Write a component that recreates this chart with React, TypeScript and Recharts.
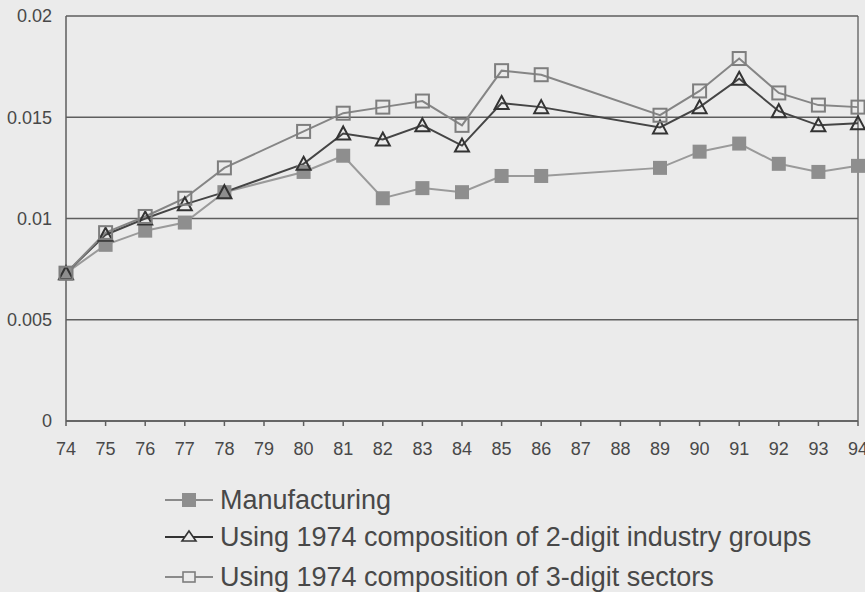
import { CartesianGrid, Line, LineChart, ReferenceLine, XAxis, YAxis } from 'recharts';

const years = [74, 75, 76, 77, 78, 80, 81, 82, 83, 84, 85, 86, 89, 90, 91, 92, 93, 94];
const manufacturing = [
  0.0073, 0.0087, 0.0094, 0.0098, 0.0113, 0.0123, 0.0131, 0.011, 0.0115, 0.0113, 0.0121, 0.0121,
  0.0125, 0.0133, 0.0137, 0.0127, 0.0123, 0.0126,
];
const twoDigit = [
  0.0073, 0.0092, 0.01, 0.0107, 0.0113, 0.0127, 0.0142, 0.0139, 0.0146, 0.0136, 0.0157, 0.0155,
  0.0145, 0.0155, 0.0169, 0.0153, 0.0146, 0.0147,
];
const threeDigit = [
  0.0073, 0.0093, 0.0101, 0.011, 0.0125, 0.0143, 0.0152, 0.0155, 0.0158, 0.0146, 0.0173, 0.0171,
  0.0151, 0.0163, 0.0179, 0.0162, 0.0156, 0.0155,
];
const xTicks = [74, 75, 76, 77, 78, 79, 80, 81, 82, 83, 84, 85, 86, 87, 88, 89, 90, 91, 92, 93, 94];
const yTicks = [0, 0.005, 0.01, 0.015, 0.02];
const labels = [
  'Manufacturing',
  'Using 1974 composition of 2-digit industry groups',
  'Using 1974 composition of 3-digit sectors',
];

const data = years.map((year, i) => ({
  year,
  manufacturing: manufacturing[i],
  twoDigit: twoDigit[i],
  threeDigit: threeDigit[i],
}));

const bg = '#ebebeb';
const axisColor = '#5e5e5e';
const textColor = '#484848';
const font = '"Liberation Sans", Arial, sans-serif';
// vertical centre of each legend row
const legendRows = [500, 537, 577];

const FilledSquare = (props: any) => {
  const { cx, cy, index } = props;
  if (cx == null || cy == null) return null;
  return <rect key={`m-${index}`} x={cx - 7} y={cy - 7} width={14} height={14} fill="#8e8e8e" />;
};

const Triangle = (props: any) => {
  const { cx, cy, index } = props;
  if (cx == null || cy == null) return null;
  return (
    <polygon
      key={`t-${index}`}
      points={`${cx},${cy - 7} ${cx + 7},${cy + 6} ${cx - 7},${cy + 6}`}
      fill="none"
      stroke="#333"
      strokeWidth={2}
    />
  );
};

const HollowSquare = (props: any) => {
  const { cx, cy, index } = props;
  if (cx == null || cy == null) return null;
  return (
    <rect
      key={`s-${index}`}
      x={cx - 6.5}
      y={cy - 6.5}
      width={13}
      height={13}
      fill="none"
      stroke="#7e7e7e"
      strokeWidth={2}
    />
  );
};

function LegendIcon({ kind }: { kind: number }) {
  return (
    <svg width={50} height={20} style={{ display: 'block' }}>
      <line x1={0} y1={10} x2={48} y2={10} stroke={kind === 1 ? '#333' : '#8a8a8a'} strokeWidth={2} />
      {kind === 0 && <rect x={17} y={3} width={14} height={14} fill="#8e8e8e" />}
      {kind === 1 && (
        <polygon points="24,4 31,14 17,14" fill={bg} stroke="#333" strokeWidth={1.6} />
      )}
      {kind === 2 && <rect x={18} y={5} width={12} height={10} fill={bg} stroke="#7e7e7e" strokeWidth={1.6} />}
    </svg>
  );
}

export default function App() {
  return (
    <div style={{ position: 'absolute', left: 0, top: 0, width: 865, height: 592, background: bg }}>
      <LineChart width={865} height={592} data={data} margin={{ top: 16, right: 7, bottom: 141, left: 0 }}>
        <CartesianGrid vertical={false} stroke={axisColor} strokeWidth={1.3} />
        <XAxis
          dataKey="year"
          type="number"
          domain={[74, 94]}
          ticks={xTicks}
          interval={0}
          height={30}
          tickSize={5}
          tickMargin={16}
          stroke={axisColor}
          strokeWidth={1.5}
          tick={{ fill: textColor, fontSize: 18, fontFamily: font }}
        />
        <YAxis
          type="number"
          domain={[0, 0.02]}
          ticks={yTicks}
          width={66}
          tickLine={false}
          tickSize={0}
          tickMargin={14}
          stroke={axisColor}
          strokeWidth={1.5}
          tickFormatter={(v: number) => String(v)}
          tick={{ fill: textColor, fontSize: 18, fontFamily: font }}
        />
        <ReferenceLine x={94} stroke={axisColor} strokeWidth={1.3} />
        <Line
          dataKey="manufacturing"
          stroke="#9a9a9a"
          strokeWidth={2}
          dot={FilledSquare}
          activeDot={false}
          isAnimationActive={false}
        />
        <Line
          dataKey="twoDigit"
          stroke="#454545"
          strokeWidth={2}
          dot={Triangle}
          activeDot={false}
          isAnimationActive={false}
        />
        <Line
          dataKey="threeDigit"
          stroke="#858585"
          strokeWidth={2}
          dot={HollowSquare}
          activeDot={false}
          isAnimationActive={false}
        />
      </LineChart>
      {labels.map((label, i) => (
        <div
          key={label}
          style={{
            position: 'absolute',
            left: 165,
            top: legendRows[i] - 16,
            height: 32,
            display: 'flex',
            alignItems: 'center',
            fontFamily: font,
            color: textColor,
          }}
        >
          <LegendIcon kind={i} />
          <span style={{ fontSize: 27, marginLeft: 5, whiteSpace: 'nowrap', lineHeight: '32px' }}>{label}</span>
        </div>
      ))}
    </div>
  );
}
